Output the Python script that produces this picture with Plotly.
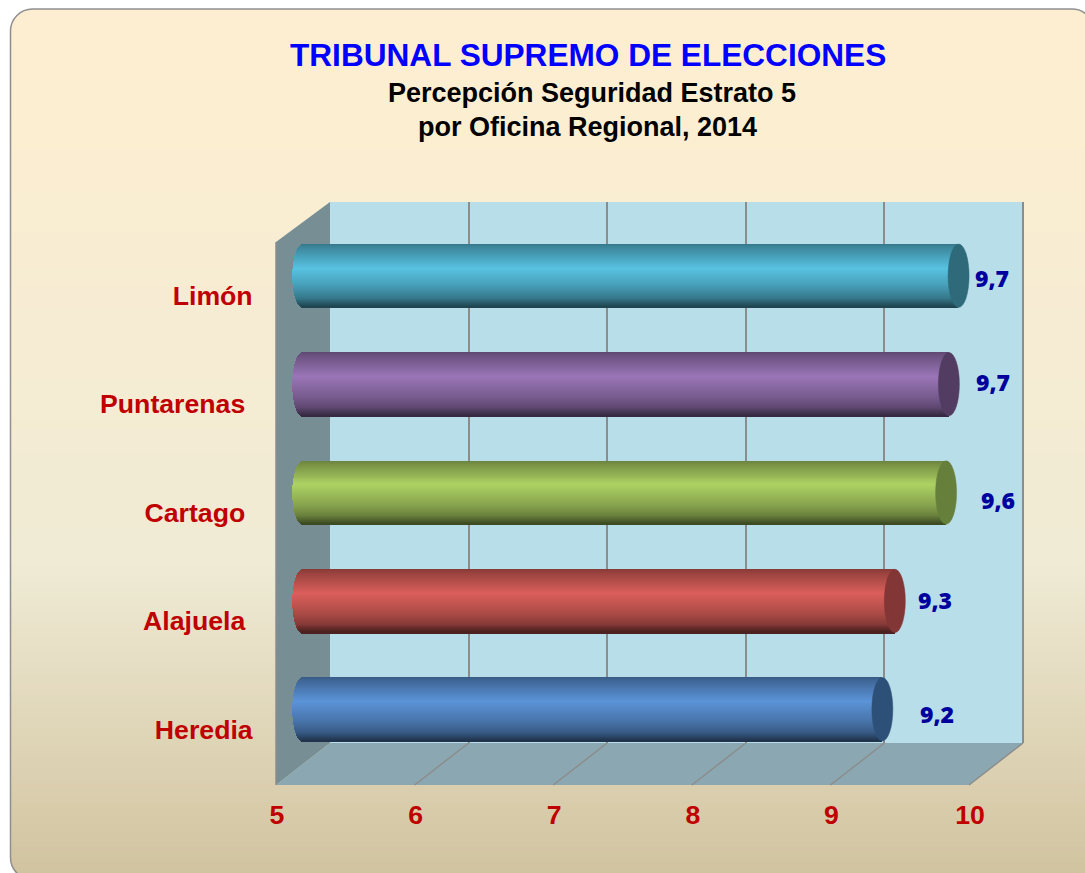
import math
import plotly.graph_objects as go

# ---------- data ----------
categories = ["Heredia", "Alajuela\u00a0", "Cartago\u00a0", "Puntarenas\u00a0", "Limón"]
values = [9.18, 9.27, 9.64, 9.66, 9.73]
axis_ticks = [5, 6, 7, 8, 9, 10]

# ---------- styles ----------
bar_colors = ["#5C94D9", "#DB5F5A", "#AED364", "#9A76B8", "#58C3E2"]
cap_colors = ["#2D5079", "#823635", "#66803B", "#533C62", "#2F6A7B"]
label_dx = [55, 40, 52, 44, 33.5]
label_dy = [-4.5, 1, -7, 2, -2]

W, H = 1085, 873
def px(x): return x / W
def py(y): return 1 - y / H

def lerp(a, b, t): return a + (b - a) * t
def hex_rgb(h): return [int(h[i:i + 2], 16) for i in (1, 3, 5)]
def mix(stops, t):
    for (t0, c0), (t1, c1) in zip(stops, stops[1:]):
        if t <= t1:
            f = (t - t0) / (t1 - t0)
            return [lerp(a, b, f) for a, b in zip(c0, c1)]
    return stops[-1][1]

shapes = []

# page background: parchment gradient inside a rounded rectangle
bg_stops = [(0, hex_rgb("#FFEFD1")), (0.64, hex_rgb("#F0EBD5")), (1, hex_rgb("#D1C39F"))]
L, T, R, B, RAD = 10.5, 9.0, 1094.0, 879.4, 22.0
y = T
while y < H:
    dy = 1.5 if y - T < RAD else 3
    inset = 0.0
    ym = y + dy / 2
    if ym - T < RAD:
        inset = RAD - math.sqrt(max(RAD ** 2 - (RAD - (ym - T)) ** 2, 0))
    elif B - ym < RAD:
        inset = RAD - math.sqrt(max(RAD ** 2 - (RAD - (B - ym)) ** 2, 0))
    c = mix(bg_stops, (ym - T) / (B - T))
    shapes.append(dict(type="rect", xref="paper", yref="paper", layer="below",
                       x0=px(L + inset), x1=px(min(R - inset, W)), y0=py(y), y1=max(py(y + dy + 1), 0),
                       fillcolor="rgb(%d,%d,%d)" % tuple(c), line=dict(width=0)))
    y += dy

def poly(points, fill=None, color=None, width=0, layer="below"):
    d = "M" + " L".join("%.5f,%.5f" % (px(a), py(b)) for a, b in points)
    if fill:
        d += " Z"
    return dict(type="path", xref="paper", yref="paper", layer=layer, path=d,
                fillcolor=fill or "rgba(0,0,0,0)",
                line=dict(color=color or "rgba(0,0,0,0)", width=width))

# frame outline
k = 0.5523 * RAD
frame = (f"M{px(L):.5f},{py(B - RAD):.5f} L{px(L):.5f},{py(T + RAD):.5f} "
         f"C{px(L):.5f},{py(T + RAD - k):.5f} {px(L + RAD - k):.5f},{py(T):.5f} {px(L + RAD):.5f},{py(T):.5f} "
         f"L{px(R - RAD):.5f},{py(T):.5f} "
         f"C{px(R - RAD + k):.5f},{py(T):.5f} {px(R):.5f},{py(T + RAD - k):.5f} {px(R):.5f},{py(T + RAD):.5f} "
         f"M{px(L):.5f},{py(B - RAD):.5f} "
         f"C{px(L):.5f},{py(B - RAD + k):.5f} {px(L + RAD - k):.5f},{py(B):.5f} {px(L + RAD):.5f},{py(B):.5f}")
shapes.append(dict(type="path", xref="paper", yref="paper", layer="below", path=frame,
                   fillcolor="rgba(0,0,0,0)", line=dict(color="#8F8F8F", width=1.5)))

# 3-D box: walls and floor
FX0, FX1, FY0, FY1 = 276.0, 969.0, 242.0, 785.0   # front plane
BX0, BX1, BY0, BY1 = 330.0, 1023.0, 202.0, 743.0  # back plane
shapes.append(poly([(BX0, BY0), (BX1, BY0), (BX1, BY1), (BX0, BY1)], fill="#B8DFE9"))
shapes.append(poly([(FX0, FY0), (BX0, BY0), (BX0, BY1), (FX0, FY1)], fill="#788E95"))
shapes.append(poly([(FX0, FY1), (BX0, BY1), (BX1, BY1), (FX1, FY1)], fill="#8BA8B2"))
shapes.append(poly([(FX0, FY0), (FX0, FY1)], color="#8C8C8C", width=1.5))
tick_span = axis_ticks[-1] - axis_ticks[0]
for t in axis_ticks[1:]:
    f = (t - axis_ticks[0]) / tick_span
    shapes.append(poly([(lerp(BX0, BX1, f), BY1), (lerp(FX0, FX1, f), FY1)], color="#8C8C8C", width=1.5))

fig = go.Figure()

# subplot 1: gridlines on the back wall
fig.add_trace(go.Scatter(x=[5], y=[0], xaxis="x", yaxis="y", mode="markers",
                         marker=dict(opacity=0), hoverinfo="skip", showlegend=False))
# subplot 2: front-plane axes that carry the tick labels
fig.add_trace(go.Scatter(x=[5] * len(categories), y=categories, xaxis="x2", yaxis="y2", mode="markers",
                         marker=dict(opacity=0), hoverinfo="skip", showlegend=False))

# subplot 3: cylinders, built from thin bars to get the shading
SCALE = 138.6                 # pixels per axis unit at mid depth
CAP_RX = 10.5 / SCALE
BAR_W = 0.585
N = 64
X3_ZERO, X3_START = 303.0, 4.8
shade = [(0.0, 0.62), (0.06, 0.70), (0.38, 1.0), (0.70, 0.78), (0.86, 0.62), (0.96, 0.42), (1.0, 0.34)]
for i in range(N):
    t = (i + 0.5) / N
    s = mix([(a, [b]) for a, b in shade], t)[0]
    chord = math.sqrt(max(1 - (2 * t - 1) ** 2, 0))
    bases = [5 - CAP_RX * chord for _ in values]
    lengths = [v - b for v, b in zip(values, bases)]
    cols = ["rgb(%d,%d,%d)" % tuple(min(255, int(ch * s)) for ch in hex_rgb(c)) for c in bar_colors]
    fig.add_trace(go.Bar(y=categories, x=lengths, base=bases, orientation="h",
                         width=BAR_W / N * 1.6, offset=BAR_W / 2 - BAR_W * (i + 1) / N,
                         marker=dict(color=cols, line=dict(width=0)),
                         xaxis="x3", yaxis="y3", hoverinfo="skip", showlegend=False))

# end caps of the cylinders
for i, v in enumerate(values):
    shapes.append(dict(type="circle", xref="x3", yref="y3", layer="above",
                       x0=v - CAP_RX, x1=v + CAP_RX, y0=i - BAR_W / 2, y1=i + BAR_W / 2,
                       fillcolor=cap_colors[i], line=dict(color=cap_colors[i], width=0.5)))

# value labels
annotations = []
for i, v in enumerate(values):
    annotations.append(dict(x=v, y=i, xref="x3", yref="y3", xshift=label_dx[i], yshift=label_dy[i],
                            text=f"{v:.1f}".replace(".", ","), showarrow=False,
                            font=dict(family="Open Sans", size=23, color="#00009E", weight=800)))

# titles
def title(text, cx, cy, size, color):
    annotations.append(dict(x=px(cx), y=py(cy), xref="paper", yref="paper", text=text, showarrow=False,
                            xanchor="center", yanchor="middle",
                            font=dict(family="Liberation Sans", size=size, color=color, weight=700)))
title("TRIBUNAL SUPREMO DE ELECCIONES", 587.5, 55, 31.6, "#0000FF")
title("Percepción Seguridad Estrato 5", 591.5, 93, 27, "#000000")
title("por Oficina Regional, 2014", 587.5, 127, 27, "#000000")

hidden = dict(visible=False, showgrid=False, zeroline=False, fixedrange=True)
red_font = dict(family="Liberation Sans", size=26.67, color="#C00000", weight=700)

fig.update_layout(
    width=W, height=H, margin=dict(l=0, r=0, t=0, b=0, autoexpand=False),
    paper_bgcolor="white", plot_bgcolor="rgba(0,0,0,0)", showlegend=False,
    barmode="overlay", bargap=0,
    shapes=shapes, annotations=annotations,
    xaxis=dict(domain=[px(BX0), px(BX1 + 2.77)], range=[5, 10.02], anchor="y", tickvals=axis_ticks[1:],
               showgrid=True, gridcolor="#8C8C8C", gridwidth=2, showticklabels=False, ticks="",
               zeroline=False, showline=False),
    yaxis=dict(hidden, domain=[py(BY1), py(BY0)], range=[0, 1], anchor="x"),
    xaxis2=dict(domain=[px(FX0 + 1), px(FX1 + 1)], range=[5, 10], anchor="y2", tickvals=axis_ticks,
                showgrid=False, zeroline=False, showline=False, ticks="outside", ticklen=7,
                tickcolor="rgba(0,0,0,0)", tickfont=red_font),
    yaxis2=dict(domain=[py(FY1 - 1), py(FY0 - 1)], anchor="x2", type="category", categoryorder="array",
                categoryarray=categories, range=[-0.5, 4.5], showgrid=False, zeroline=False, showline=False,
                ticks="outside", ticklen=18, tickcolor="rgba(0,0,0,0)", tickfont=red_font),
    xaxis3=dict(hidden, domain=[px(X3_ZERO + (X3_START - 5) * SCALE), px(X3_ZERO + 5 * SCALE)],
                range=[X3_START, 10], anchor="y3"),
    yaxis3=dict(hidden, domain=[py(763.5), py(221.6)], type="category", categoryorder="array",
                categoryarray=categories, range=[-0.5, 4.5], anchor="x3"),
)

fig.write_html("out.html", config=dict(displayModeBar=False),
               post_script="document.body.style.margin='0';document.documentElement.style.overflow='hidden';")
